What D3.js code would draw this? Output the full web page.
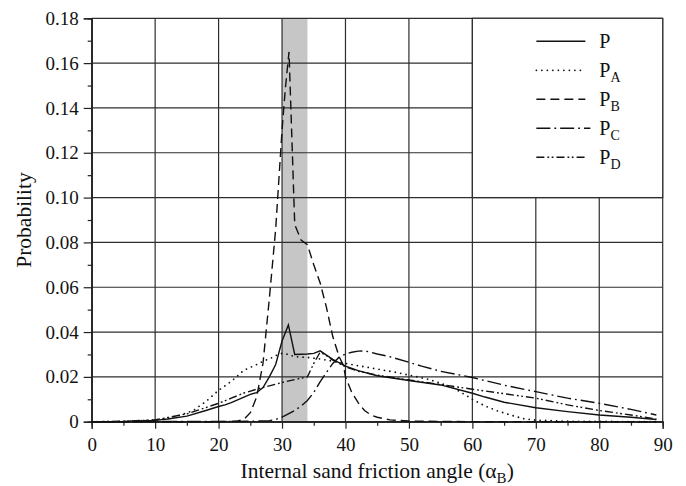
<!DOCTYPE html>
<html>
<head>
<meta charset="utf-8">
<script src="https://cdn.jsdelivr.net/npm/d3@7"></script>
<style>
  body { margin: 0; background: #fff; }
  text { font-family: "Liberation Serif", "Times New Roman", serif; fill: #111; }
</style>
</head>
<body>
<div id="chart"></div>
<script>
// Probability curves vs internal sand friction angle, [angle, probability]
const seriesP = [[0,0],[5,0.0001],[10,0.0006],[12,0.0012],[15,0.0025],[18,0.005],[20,0.0068],[21,0.0075],
  [22,0.0085],[24,0.011],[25,0.0122],[26,0.013],[27,0.0152],[28,0.02],[29,0.0255],[30,0.036],[31,0.0432],
  [32,0.03],[34,0.0302],[35,0.0305],[36,0.0316],[38,0.0278],[40,0.0248],[42,0.0228],[45,0.0205],[50,0.0184],
  [55,0.0164],[60,0.0127],[62,0.011],[65,0.0087],[70,0.0062],[75,0.0045],[80,0.003],[85,0.002],[89,0.001]];

const seriesPA = [[0,0],[5,0.0001],[10,0.0008],[12,0.0015],[14,0.003],[16,0.005],[18,0.009],[20,0.014],
  [22,0.018],[24,0.023],[26,0.0255],[27,0.027],[28,0.028],[29,0.0295],[30,0.0305],[31,0.03],[32,0.029],
  [34,0.0287],[36,0.028],[38,0.027],[40,0.026],[42,0.025],[45,0.0235],[48,0.022],[50,0.0208],[53,0.019],
  [55,0.0172],[57,0.015],[58,0.0135],[60,0.01],[62,0.007],[64,0.0048],[66,0.003],[68,0.0014],[70,0.0007],
  [75,0.0002],[80,0.0001],[89,0]];

const seriesPB = [[0,0],[20,0],[23,0.0003],[24,0.001],[25,0.004],[26,0.011],[27,0.026],[28,0.055],
  [29,0.086],[30,0.13],[30.5,0.148],[31.1,0.165],[32,0.088],[33,0.081],[34,0.079],[35,0.07],[36,0.062],
  [37,0.051],[38,0.038],[39,0.029],[39.7,0.025],[40,0.02],[41,0.013],[42,0.0085],[43,0.005],[44,0.003],
  [45,0.002],[47,0.0008],[50,0.0003],[60,0],[89,0]];

const seriesPC = [[0,0],[20,0.0001],[25,0.0002],[28,0.0005],[29,0.001],[30,0.002],[31,0.0035],[32,0.005],
  [33,0.007],[34,0.0095],[35,0.013],[36,0.0178],[37,0.022],[38,0.026],[39,0.0288],[40,0.0302],[41,0.031],
  [42,0.0315],[43,0.0316],[44,0.031],[45,0.0302],[47,0.029],[50,0.0265],[52,0.0248],[55,0.0225],[60,0.0197],
  [65,0.0163],[70,0.0134],[75,0.0105],[80,0.0082],[85,0.0055],[89,0.003]];

const seriesPD = [[0,0],[5,0.0002],[10,0.0008],[15,0.0035],[20,0.0082],[22,0.0105],[24,0.0128],[26,0.0145],
  [28,0.016],[30,0.0175],[32,0.0188],[34,0.02],[35,0.026],[36,0.031],[37,0.0295],[38,0.0275],[40,0.0245],
  [42,0.0225],[45,0.0208],[50,0.0186],[55,0.0166],[60,0.0145],[65,0.0125],[70,0.0105],[75,0.0075],[80,0.005],
  [85,0.003],[89,0.0012]];

const seriesNames = ["P", "PA", "PB", "PC", "PD"];
const seriesData = [seriesP, seriesPA, seriesPB, seriesPC, seriesPD];
const xTicks = [0, 10, 20, 30, 40, 50, 60, 70, 80, 90];
const yTicks = [0, 0.02, 0.04, 0.06, 0.08, 0.10, 0.12, 0.14, 0.16, 0.18];
const shadedRange = [30, 34];
const legendRange = { x: [60, 90], y: [0.10, 0.18] };

const W = 686, H = 486;
const margin = { top: 18.3, right: 23.3, bottom: 64.3, left: 91.7 };

const svg = d3.select("#chart").append("svg")
  .attr("width", W).attr("height", H);

const x = d3.scaleLinear().domain([0, 90]).range([margin.left, W - margin.right]);
const y = d3.scaleLinear().domain([0, 0.18]).range([H - margin.bottom, margin.top]);

// dash styles per series (PA uses round caps for dots)
const dashes = { P: null, PA: "0,5.5", PB: "9,5", PC: "14,4,1.8,4", PD: "8,3,1.8,2.5,1.8,3" };

// shaded band
svg.append("rect")
  .attr("x", x(shadedRange[0])).attr("y", y(0.18))
  .attr("width", x(shadedRange[1]) - x(shadedRange[0]))
  .attr("height", y(0) - y(0.18))
  .attr("fill", "#c6c6c6");

// grid
const grid = svg.append("g").attr("stroke", "#2e2e2e").attr("stroke-width", 1.2);
grid.selectAll(".vg").data(xTicks).join("line")
  .attr("x1", d => x(d)).attr("x2", d => x(d))
  .attr("y1", y(0)).attr("y2", y(0.18));
grid.selectAll(".hg").data(yTicks).join("line")
  .attr("x1", x(0)).attr("x2", x(90))
  .attr("y1", d => y(d)).attr("y2", d => y(d));

// axes
svg.append("g")
  .attr("transform", `translate(0,${y(0)})`)
  .call(d3.axisBottom(x).tickValues(xTicks).tickSize(7).tickPadding(9));
svg.append("g")
  .attr("transform", `translate(0,${y(0)})`)
  .call(d3.axisBottom(x).tickValues(d3.range(5, 90, 10)).tickSize(4).tickFormat(""));
svg.append("g")
  .attr("transform", `translate(${x(0)},0)`)
  .call(d3.axisLeft(y).tickValues(yTicks).tickSize(8).tickPadding(5)
    .tickFormat(d => d === 0 ? "0" : d3.format(".2f")(d)));
svg.append("g")
  .attr("transform", `translate(${x(0)},0)`)
  .call(d3.axisLeft(y).tickValues(d3.range(0.01, 0.18, 0.02)).tickSize(4).tickFormat(""));

svg.selectAll(".domain").attr("stroke", "#222").attr("stroke-width", 1.2);
svg.selectAll(".tick line").attr("stroke", "#222").attr("stroke-width", 1.2);
svg.selectAll(".tick text").attr("font-size", 19).attr("fill", "#111")
  .attr("font-family", "'Liberation Serif', serif");

// curves
const line = d3.line().x(d => x(d[0])).y(d => y(d[1]));
svg.append("g").selectAll("path").data(seriesData).join("path")
  .attr("d", line)
  .attr("fill", "none")
  .attr("stroke", "#111")
  .attr("stroke-width", (d, i) => seriesNames[i] === "PA" ? 1.8 : 1.4)
  .attr("stroke-linecap", (d, i) => seriesNames[i] === "PA" ? "round" : "butt")
  .attr("stroke-dasharray", (d, i) => dashes[seriesNames[i]]);

// legend box
const lx0 = x(legendRange.x[0]), lx1 = x(legendRange.x[1]);
const ly0 = y(legendRange.y[1]), ly1 = y(legendRange.y[0]);
svg.append("rect")
  .attr("x", lx0).attr("y", ly0)
  .attr("width", lx1 - lx0).attr("height", ly1 - ly0)
  .attr("fill", "#fff").attr("stroke", "#2e2e2e").attr("stroke-width", 1.2);

const legend = svg.append("g");
seriesNames.forEach((name, i) => {
  const cy = ly0 + 23 + i * 29;
  legend.append("line")
    .attr("x1", lx0 + 64).attr("x2", lx0 + (name === "PC" ? 118 : 113))
    .attr("y1", cy).attr("y2", cy)
    .attr("stroke", "#111")
    .attr("stroke-width", name === "PA" ? 1.8 : 1.4)
    .attr("stroke-linecap", name === "PA" ? "round" : "butt")
    .attr("stroke-dasharray", dashes[name]);
  const t = legend.append("text")
    .attr("x", lx0 + 127).attr("y", cy + 7)
    .attr("font-size", 20);
  t.append("tspan").text("P");
  if (name.length > 1) {
    t.append("tspan").attr("dy", 5).attr("font-size", 14).text(name.slice(1));
  }
});

// axis titles
const xt = svg.append("text")
  .attr("x", (x(0) + x(90)) / 2).attr("y", H - 8)
  .attr("text-anchor", "middle").attr("font-size", 21.5);
xt.append("tspan").text("Internal sand friction angle (α");
xt.append("tspan").attr("dy", 5).attr("font-size", 15).text("B");
xt.append("tspan").attr("dy", -5).text(")");

svg.append("text")
  .attr("transform", `translate(31,${(y(0) + y(0.18)) / 2}) rotate(-90)`)
  .attr("text-anchor", "middle").attr("font-size", 21.5)
  .text("Probability");
</script>
</body>
</html>
